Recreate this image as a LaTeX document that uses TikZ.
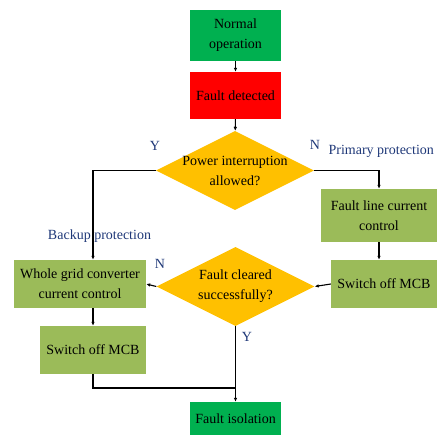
\documentclass[tikz,border=0pt]{standalone}
\usepackage{fontspec}
\setmainfont{Liberation Serif}
\usetikzlibrary{shapes.geometric,arrows.meta}
\definecolor{okgreen}{RGB}{0,176,80}
\definecolor{alarmred}{RGB}{255,0,0}
\definecolor{askgold}{RGB}{255,192,0}
\definecolor{olivebox}{RGB}{155,187,89}
\definecolor{notenavy}{RGB}{31,56,120}
\newcommand{\boxfont}{\fontsize{14}{20}\selectfont}

\begin{document}
\begin{tikzpicture}[x=1pt,y=-1pt,
  box/.style={rectangle,align=center,inner sep=1pt,font=\boxfont},
  ask/.style={diamond,fill=askgold,aspect=2,inner xsep=0pt,inner ysep=-16pt,
    minimum width=158pt,minimum height=79pt,align=center,font=\boxfont},
  flow/.style={line width=1.1pt,-{Latex[length=4pt,width=3.5pt]}},
  wire/.style={line width=1.1pt},
  tag/.style={text=notenavy,font=\fontsize{14}{16}\selectfont}]
\useasboundingbox (0,0) rectangle (438,436);
% main column
\node[box,fill=okgreen,minimum width=91pt,minimum height=51pt] (normal) at (235.5,35.5) {Normal\\operation};
\node[box,fill=alarmred,minimum width=91pt,minimum height=47pt] (fault) at (235.5,95.5) {Fault detected};
\node[ask] (askcut) at (235,170.5) {Power interruption\\allowed?};
\node[ask] (askok) at (235.5,286.5) {Fault cleared\\successfully?};
\node[box,fill=okgreen,minimum width=91pt,minimum height=33pt] (iso) at (235.5,418.5) {Fault isolation};
% primary protection
\node[box,fill=olivebox,minimum width=116pt,minimum height=53pt] (lineI) at (379,215.5) {Fault line current\\control};
\node[box,fill=olivebox,minimum width=106pt,minimum height=48pt] (mcbR) at (384,284) {Switch off MCB};
% backup protection
\node[box,fill=olivebox,minimum width=132pt,minimum height=48pt] (wholeI) at (80,284) {Whole grid converter\\current control};
\node[box,fill=olivebox,minimum width=106pt,minimum height=48pt] (mcbL) at (93,350) {Switch off MCB};
\coordinate (join) at (235.5,388);
% labels
\node[tag] (yA) at (155,146) {Y};
\node[tag] (nA) at (315,145) {N};
\node[tag,anchor=east] (prim) at (437.5,151) {Primary protection};
\node[tag] (back) at (99.5,236) {Backup protection};
\node[tag] (nB) at (160,264) {N};
\node[tag] (yB) at (247,337) {Y};
% connectors
\draw[flow] (normal) -- (fault);
\draw[flow] (fault) -- (askcut);
\draw[flow] (askcut.west) -| (mcbL.north |- wholeI.north);
\draw[flow] (askcut.east) -| (lineI.north);
\draw[flow] (lineI.south) -- (lineI.south |- mcbR.north);
\draw[flow] (mcbR.west) -- (askok.east);
\draw[flow] (askok.west) -- (wholeI.east);
\draw[flow] (mcbL.north |- wholeI.south) -- (mcbL.north);
\draw[wire] (mcbL.south) |- (join);
\draw[flow] (askok.south) -- (iso.north);
\end{tikzpicture}
\end{document}
